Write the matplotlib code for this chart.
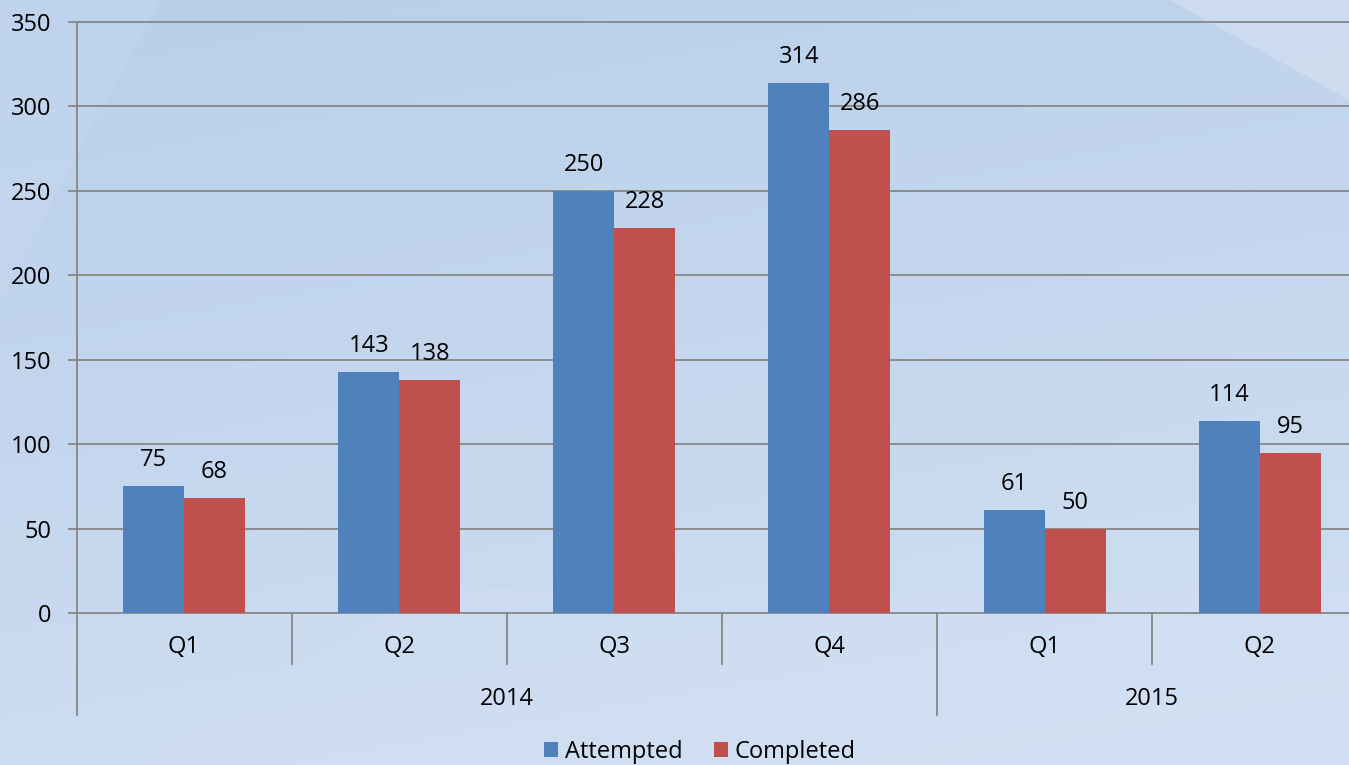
import numpy as np
import matplotlib
matplotlib.use('Agg')
import matplotlib.pyplot as plt
from matplotlib.patches import Patch, Polygon
from matplotlib.transforms import blended_transform_factory

# ---- data ----
quarters = ['Q1', 'Q2', 'Q3', 'Q4', 'Q1', 'Q2']
years = ['2014', '2015']
year_spans = [4, 2]
attempted = [75, 143, 250, 314, 61, 114]
completed = [68, 138, 228, 286, 50, 95]
series_names = ['Attempted', 'Completed']
yticks = [0, 50, 100, 150, 200, 250, 300, 350]

plt.rcParams['font.family'] = ['Open Sans', 'DejaVu Sans']
FS = 17
GRID = '#868686'
BLUE = '#4F81BD'
RED = '#C0504D'

W, H = 1349, 765
fig = plt.figure(figsize=(W / 100, H / 100), dpi=100)

# ---- background ----
bg = fig.add_axes([0, 0, 1, 1], zorder=-10)
bg.set_xlim(0, W)
bg.set_ylim(H, 0)
bg.axis('off')
yy, xx = np.mgrid[0:H, 0:W] / np.array([H, W])[:, None, None]
top = np.array([0.725, 0.812, 0.918])
bot = np.array([0.820, 0.876, 0.950])
t = np.clip(yy * 0.8 + xx * 0.25, 0, 1)[..., None]
img = top * (1 - t) + bot * t
bg.imshow(img, extent=[0, W, H, 0], aspect='auto', zorder=0)
# lighter facets
bg.add_patch(Polygon([[1170, 0], [W, 0], [W, 100]], closed=True,
                     facecolor='#D8E2F1', edgecolor='none', alpha=0.6, zorder=1))
bg.add_patch(Polygon([[0, 0], [160, 0], [0, 300]], closed=True,
                     facecolor='#C6D8EF', edgecolor='none', alpha=0.5, zorder=1))
bg.add_patch(Polygon([[130, H], [430, 590], [W, 590], [W, H]], closed=True,
                     facecolor='#D4E2F4', edgecolor='none', alpha=0.3, zorder=1))

# ---- main axes (plot area extends past the right image edge) ----
n = len(quarters)
group_px = (937 - 76.5) / 4
left = 76.5 / W
bottom = 1 - 613 / H
height = (613 - 22) / H
ax = fig.add_axes([left, bottom, n * group_px / W, height])
ax.patch.set_alpha(0)
x = np.arange(n) + 0.5
bw = 61 / group_px
b1 = ax.bar(x - bw / 2, attempted, bw, color=BLUE, label=series_names[0], zorder=3)
b2 = ax.bar(x + bw / 2, completed, bw, color=RED, label=series_names[1], zorder=3)
ax.set_xlim(0, n)
ax.set_ylim(0, 350)

for bars, vals in ((b1, attempted), (b2, completed)):
    for r, v in zip(bars, vals):
        ax.annotate(str(v), (r.get_x() + r.get_width() / 2, v),
                    xytext=(0, 10), textcoords='offset points',
                    ha='center', va='bottom', fontsize=FS, color='black', zorder=5)

for s in ax.spines.values():
    s.set_visible(False)
for yt in yticks:
    ax.axhline(yt, color=GRID, lw=1.3, zorder=1, clip_on=False)
ax.set_yticks(yticks)
ax.tick_params(axis='y', length=6.5, width=1.3, color=GRID, pad=11.5,
               labelsize=FS)
ax.set_xticks([])

bt = blended_transform_factory(ax.transData, ax.transAxes)
q_depth = -(664 - 613) / 591
y_depth = -(715 - 613) / 591
ax.plot([0, 0], [y_depth, 1], color=GRID, lw=1.3, transform=bt, clip_on=False, zorder=2)
for i in range(1, n):
    d = q_depth
    if i == year_spans[0]:
        d = y_depth
    ax.plot([i, i], [0, d], color=GRID, lw=1.3, transform=bt, clip_on=False, zorder=2)

for i, q in enumerate(quarters):
    ax.text(i + 0.5, -(647 - 613) / 591, q, transform=bt, ha='center', va='center',
            fontsize=FS)
start = 0
for yname, span in zip(years, year_spans):
    ax.text(start + span / 2, -(699 - 613) / 591, yname, transform=bt,
            ha='center', va='center', fontsize=FS)
    start += span

handles = [Patch(facecolor=BLUE, edgecolor='none'), Patch(facecolor=RED, edgecolor='none')]
fig.legend(handles, series_names, loc='center', bbox_to_anchor=(700 / W, 1 - 752 / H),
           ncol=2, frameon=False, fontsize=FS, handlelength=0.6, handleheight=0.6,
           handletextpad=0.3, columnspacing=1.3, borderaxespad=0, borderpad=0)

fig.savefig('out.png', dpi=100)
